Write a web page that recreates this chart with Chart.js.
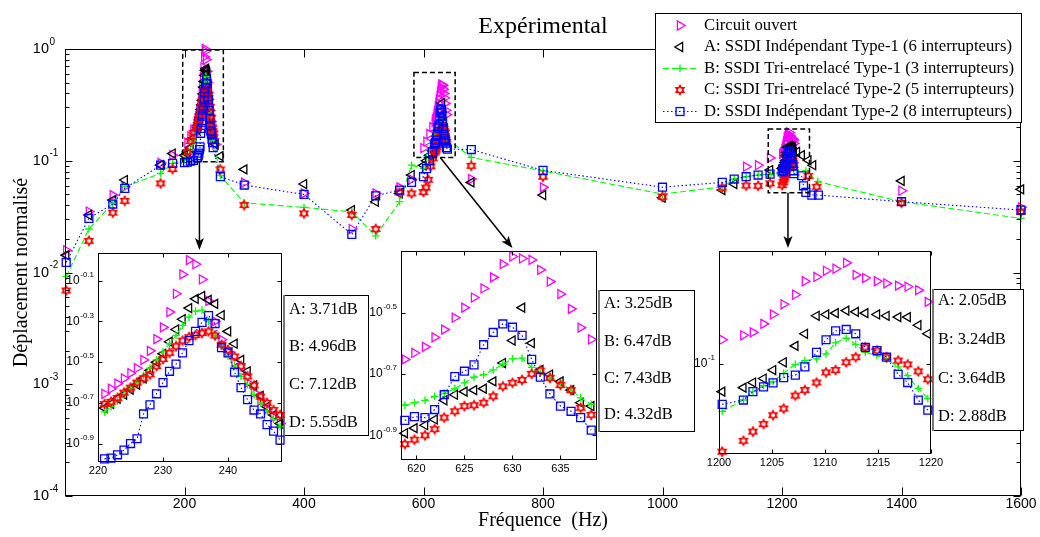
<!DOCTYPE html>
<html><head><meta charset="utf-8">
<script src="https://cdn.jsdelivr.net/npm/chart.js@4/dist/chart.umd.min.js"></script>
<style>
html,body{margin:0;padding:0;background:#fff;}
#wrap{position:relative;width:1040px;height:537px;overflow:hidden;background:#fff;}
#wrap canvas{position:absolute;}
</style></head><body>
<div id="wrap">
<canvas id="main" width="1040" height="537" style="left:0;top:0;z-index:1"></canvas>
<canvas id="in1" width="240" height="240" style="z-index:2"></canvas>
<canvas id="in2" width="250" height="240" style="z-index:2"></canvas>
<canvas id="in3" width="262" height="240" style="z-index:2"></canvas>
</div>
<script>
// ---------------- DATA ----------------
const SERIES_LABELS = [
  'Circuit ouvert',
  'A: SSDI Indépendant Type-1 (6 interrupteurs)',
  'B: SSDI Tri-entrelacé Type-1 (3 interrupteurs)',
  'C: SSDI Tri-entrelacé Type-2 (5 interrupteurs)',
  'D: SSDI Indépendant Type-2 (8 interrupteurs)'
];
const TITLE = 'Expérimental';
const X_TITLE = 'Fréquence  (Hz)';
const Y_TITLE = 'Déplacement normalisé';

// zoomed frequency sweeps (Hz)
const FREQ_INSET1 = [221,222,223,224,225,226,227,228,229,230,231,232,233,234,235,236,237,238,239,240,241,242,243,244,245,246,247,248];
const FREQ_INSET2 = [618.8,619.8,620.9,621.9,622.9,624,625,626,627,628,629,630,631,632,632.9,633.9,635,636.1,637.1,638.2];
const FREQ_INSET3 = [1200.3,1202.3,1203.2,1204.2,1205.1,1206.1,1207.2,1208.1,1209.2,1210.1,1211,1212,1212.9,1213.8,1214.9,1215.8,1216.9,1217.8,1218.8,1219.7];

// Circuit ouvert
const OUVERT_INSET1 = [0.221,0.234,0.248,0.263,0.279,0.295,0.324,0.359,0.410,0.468,0.556,0.684,0.851,1.0,0.955,0.804,0.631,0.501,0.407,0.355,0.316,0.282,0.251,0.224,0.204,0.186,0.170,0.158];
const OUVERT_INSET2 = [0.223,0.234,0.245,0.263,0.279,0.305,0.329,0.355,0.380,0.413,0.456,0.483,0.476,0.471,0.437,0.400,0.364,0.326,0.283,0.259];
const OUVERT_INSET3 = [0.115,0.118,0.120,0.126,0.133,0.141,0.149,0.161,0.165,0.171,0.173,0.179,0.167,0.164,0.161,0.159,0.157,0.156,0.153,0.143];
const OUVERT_MAIN_F = [2,40,80,100,160,180,200,205,210,215,252,300,400,480,520,560,580,600,605,610,615,680,800,1140,1160,1180,1400,1600];
const OUVERT_MAIN_V = [0.0158,0.0351,0.0493,0.0585,0.0955,0.112,0.110,0.145,0.165,0.19,0.14,0.0636,0.051,0.0245,0.051,0.0578,0.068,0.13,0.148,0.174,0.2,0.0686,0.0578,0.0884,0.0912,0.106,0.0539,0.0382];

// A
const A_INSET1 = [0.188,0.197,0.209,0.219,0.232,0.245,0.263,0.288,0.316,0.347,0.398,0.457,0.513,0.582,0.646,0.667,0.638,0.610,0.537,0.447,0.389,0.324,0.285,0.243,0.216,0.191,0.174,0.158];
const A_INSET2 = [0.128,0.133,0.136,0.142,0.164,0.171,0.175,0.177,0.179,0.189,0.217,0.257,0.329,0.252,0.206,0.199,0.189,0.177,0.161,0.157];
const A_INSET3 = [0.0853,0.0873,0.0899,0.0920,0.0966,0.101,0.111,0.119,0.132,0.133,0.134,0.136,0.135,0.134,0.133,0.132,0.131,0.131,0.125,0.119];
const A_MAIN_F = [2,40,80,100,160,180,200,205,210,215,252,260,300,400,480,520,560,580,600,605,610,615,680,800,1000,1100,1120,1180,1225,1233,1244,1252,1400,1600];
const A_MAIN_V = [0.0143,0.0327,0.0445,0.0672,0.0913,0.116,0.112,0.115,0.13,0.16,0.14,0.11,0.0837,0.0619,0.0362,0.043,0.051,0.0745,0.091,0.1,0.112,0.123,0.064,0.0493,0.0467,0.0547,0.0619,0.0826,0.12,0.112,0.101,0.0912,0.066,0.0555];

// B
const B_INSET1 = [0.180,0.191,0.204,0.219,0.234,0.251,0.272,0.295,0.324,0.355,0.389,0.427,0.479,0.525,0.562,0.569,0.501,0.427,0.380,0.339,0.302,0.269,0.245,0.219,0.1995,0.182,0.166,0.153];
const B_INSET2 = [0.158,0.161,0.164,0.169,0.173,0.179,0.187,0.195,0.199,0.206,0.215,0.224,0.225,0.210,0.201,0.194,0.187,0.177,0.167,0.159];
const B_INSET3 = [0.0762,0.0813,0.0853,0.0883,0.0904,0.0948,0.0998,0.102,0.103,0.106,0.113,0.116,0.112,0.107,0.105,0.103,0.0984,0.0935,0.0869,0.0820];
const B_MAIN_F = [2,40,80,100,160,180,200,205,210,215,260,300,400,480,520,560,580,600,605,610,615,680,800,1000,1100,1120,1140,1160,1180,1240,1260,1400,1600];
const B_MAIN_V = [0.0092,0.0245,0.0417,0.0585,0.077,0.0947,0.102,0.107,0.126,0.15,0.0735,0.0421,0.0382,0.0349,0.0213,0.043,0.0912,0.0855,0.107,0.126,0.145,0.107,0.081,0.0503,0.0585,0.0686,0.072,0.0745,0.076,0.081,0.065,0.043,0.0305];

// C
const C_INSET1 = [0.197,0.202,0.211,0.224,0.237,0.251,0.263,0.275,0.302,0.327,0.351,0.378,0.403,0.419,0.429,0.439,0.447,0.427,0.385,0.363,0.337,0.302,0.269,0.243,0.214,0.1995,0.184,0.174];
const C_INSET2 = [0.118,0.122,0.126,0.132,0.144,0.151,0.157,0.158,0.161,0.169,0.182,0.187,0.191,0.200,0.205,0.194,0.184,0.177,0.155,0.147];
const C_INSET3 = [0.0604,0.0643,0.0678,0.0708,0.0745,0.0774,0.0834,0.0861,0.0899,0.0953,0.0966,0.101,0.104,0.110,0.108,0.104,0.102,0.0998,0.0959,0.0916];
const C_MAIN_F = [2,40,80,100,160,180,205,210,215,260,300,400,480,520,560,580,600,604,608,612,616,680,800,1000,1100,1140,1160,1180,1244,1258,1400,1600];
const C_MAIN_V = [0.0069,0.0192,0.0343,0.0438,0.0627,0.0843,0.12,0.15,0.178,0.0837,0.0401,0.0338,0.0327,0.0245,0.0521,0.051,0.0525,0.0575,0.0676,0.0891,0.105,0.0902,0.072,0.0476,0.0575,0.06,0.0597,0.0627,0.073,0.0585,0.042,0.0349];

// D
const D_INSET1 = [0.106,0.107,0.111,0.117,0.126,0.133,0.176,0.195,0.221,0.251,0.285,0.309,0.351,0.403,0.447,0.495,0.535,0.488,0.372,0.351,0.282,0.237,0.207,0.184,0.176,0.156,0.145,0.131];
const D_INSET2 = [0.141,0.145,0.144,0.153,0.171,0.196,0.204,0.214,0.249,0.273,0.291,0.284,0.267,0.223,0.195,0.172,0.157,0.151,0.144,0.131];
const D_INSET3 = [0.0793,0.0813,0.0853,0.0877,0.0897,0.0925,0.0938,0.0984,0.107,0.115,0.121,0.122,0.119,0.110,0.108,0.104,0.0942,0.0899,0.0813,0.0767];
const D_MAIN_F = [2,40,80,100,160,180,200,205,210,215,260,300,400,480,520,560,580,600,605,610,615,640,680,800,1000,1100,1120,1140,1160,1180,1233,1236,1240,1250,1261,1400,1600];
const D_MAIN_V = [0.0123,0.0305,0.041,0.0566,0.0913,0.0947,0.096,0.097,0.099,0.101,0.072,0.0606,0.05,0.0219,0.0486,0.0547,0.064,0.072,0.085,0.1,0.12,0.127,0.126,0.082,0.058,0.064,0.0686,0.072,0.0745,0.076,0.0734,0.0597,0.0521,0.0493,0.0493,0.043,0.0362];

// dB gains written beside each zoom
const GAIN_INSET1 = ['A: 3.71dB','B: 4.96dB','C: 7.12dB','D: 5.55dB'];
const GAIN_INSET2 = ['A: 3.25dB','B: 6.47dB','C: 7.43dB','D: 4.32dB'];
const GAIN_INSET3 = ['A: 2.05dB','B: 3.24dB','C: 3.64dB','D: 2.88dB'];

// tick labels
const MAIN_X_TICKS = [200,400,600,800,1000,1200,1400,1600];
const MAIN_Y_EXPS = ['0','-1','-2','-3','-4'];
const INSET1_X_TICKS = [220,230,240];
const INSET2_X_TICKS = [620,625,630,635];
const INSET3_X_TICKS = [1200,1205,1210,1215,1220];
const INSET1_Y_EXPS = ['-0.1','-0.3','-0.5','-0.7','-0.9'];
const INSET2_Y_EXPS = ['-0.5','-0.7','-0.9'];
const INSET3_Y_EXPS = ['-1'];

// ---------------- STYLE ----------------
const SANS = '"Liberation Sans", Arial, sans-serif';
const SERIF = '"Liberation Serif", "Times New Roman", serif';

function hexagramCanvas(R, color, lw) {
  const s = Math.ceil(2 * R + lw * 2 + 2);
  const c = document.createElement('canvas'); c.width = s; c.height = s;
  const g = c.getContext('2d');
  const cx = s / 2, cy = s / 2, r = R / Math.sqrt(3);
  g.beginPath();
  for (let i = 0; i < 12; i++) {
    const ang = -Math.PI / 2 + i * Math.PI / 6;
    const rr = i % 2 === 0 ? R : r;
    const x = cx + rr * Math.cos(ang), y = cy + rr * Math.sin(ang);
    if (i) g.lineTo(x, y); else g.moveTo(x, y);
  }
  g.closePath(); g.strokeStyle = color; g.lineWidth = lw; g.stroke();
  return c;
}
const HEX_IMG = hexagramCanvas(4.3, '#FF0000', 1.7);

const SERIES_STYLE = [
  {color:'#FF00FF', pointStyle:'triangle', rotation:90, radius:5.2, line:false},
  {color:'#000000', pointStyle:'triangle', rotation:270, radius:5.2, line:false},
  {color:'#00FF00', pointStyle:'cross', rotation:0, radius:3.8, line:true, dash:[6,3]},
  {color:'#FF0000', pointStyle:'hexagram', rotation:0, radius:4.3, line:false},
  {color:'#0000FF', pointStyle:'rect', rotation:0, radius:5.6, line:true, dash:[1.5,2.5]}
];

const MAIN_F = [OUVERT_MAIN_F, A_MAIN_F, B_MAIN_F, C_MAIN_F, D_MAIN_F];
const MAIN_V = [OUVERT_MAIN_V, A_MAIN_V, B_MAIN_V, C_MAIN_V, D_MAIN_V];
const INSET_V = [
  [OUVERT_INSET1, A_INSET1, B_INSET1, C_INSET1, D_INSET1],
  [OUVERT_INSET2, A_INSET2, B_INSET2, C_INSET2, D_INSET2],
  [OUVERT_INSET3, A_INSET3, B_INSET3, C_INSET3, D_INSET3]
];
const INSET_F = [FREQ_INSET1, FREQ_INSET2, FREQ_INSET3];

function toPoints(fs, vs) { return fs.map((f, k) => ({x: f, y: vs[k]})); }
function mergePoints(lists) { return [].concat(...lists).sort((p, q) => p.x - q.x); }

function makeDataset(i, points) {
  const st = SERIES_STYLE[i];
  return {
    label: SERIES_LABELS[i], data: points,
    showLine: st.line, borderColor: st.color, borderWidth: 1.1, borderDash: st.dash || [],
    pointStyle: st.pointStyle === 'hexagram' ? HEX_IMG : st.pointStyle,
    pointRadius: st.radius, pointRotation: st.rotation,
    pointBorderColor: st.color, pointBackgroundColor: 'rgba(0,0,0,0)', pointBorderWidth: 1.3,
    order: 5 - i, clip: false, tension: 0
  };
}

function drawExpLabel(ctx, x, y, exp, baseSize, expSize, mode) {
  ctx.font = baseSize + 'px ' + SANS; const wb = ctx.measureText('10').width;
  ctx.font = expSize + 'px ' + SANS; const we = ctx.measureText(exp).width;
  const bx = mode === 'right' ? x - we - wb - 0.5 : x - wb;
  ctx.textAlign = 'left'; ctx.textBaseline = 'middle';
  ctx.font = baseSize + 'px ' + SANS; ctx.fillText('10', bx, y);
  ctx.font = expSize + 'px ' + SANS; ctx.fillText(exp, bx + wb + 0.5, y - baseSize * 0.5);
}

function makeAxesPlugin(cfg) {
  return {
    id: 'matAxes_' + cfg.name,
    beforeDatasetsDraw(chart) {
      if (!cfg.whiteFill) return;
      const a = chart.chartArea, ctx = chart.ctx;
      ctx.save(); ctx.fillStyle = '#fff'; ctx.fillRect(a.left, a.top, a.right - a.left, a.bottom - a.top); ctx.restore();
    },
    afterDatasetsDraw(chart) {
      const ctx = chart.ctx, a = chart.chartArea, xs = chart.scales.x, ys = chart.scales.y;
      ctx.save();
      ctx.strokeStyle = '#000'; ctx.lineWidth = 1; ctx.setLineDash([]);
      const L = Math.round(a.left) + 0.5, R = Math.round(a.right) - 0.5, T = Math.round(a.top) + 0.5, B = Math.round(a.bottom) - 0.5;
      ctx.strokeRect(L, T, R - L, B - T);
      ctx.beginPath();
      cfg.xTicks.forEach(v => {
        const px = Math.round(xs.getPixelForValue(v)) + 0.5;
        ctx.moveTo(px, B); ctx.lineTo(px, B - cfg.xTickLen);
        ctx.moveTo(px, T); ctx.lineTo(px, T + cfg.xTickLen);
      });
      cfg.yExps.forEach(e => {
        const py = Math.round(ys.getPixelForValue(Math.pow(10, parseFloat(e)))) + 0.5;
        ctx.moveTo(L, py); ctx.lineTo(L + cfg.yTickLen, py);
        ctx.moveTo(R, py); ctx.lineTo(R - cfg.yTickLen, py);
      });
      (cfg.yMinor || []).forEach(v => {
        const py = Math.round(ys.getPixelForValue(v)) + 0.5;
        ctx.moveTo(L, py); ctx.lineTo(L + cfg.yMinorLen, py);
        ctx.moveTo(R, py); ctx.lineTo(R - cfg.yMinorLen, py);
      });
      ctx.stroke();
      ctx.fillStyle = '#000';
      ctx.font = cfg.xFont + 'px ' + SANS; ctx.textAlign = 'center'; ctx.textBaseline = 'middle';
      cfg.xTicks.forEach(v => ctx.fillText(String(v), xs.getPixelForValue(v), a.bottom + cfg.xLabelGap));
      cfg.yExps.forEach(e => {
        const py = ys.getPixelForValue(Math.pow(10, parseFloat(e)));
        drawExpLabel(ctx, a.left - cfg.yLabelGap, py, e, cfg.yBase, cfg.yExp, cfg.yMode);
      });
      ctx.restore();
    }
  };
}

// ---------------- INSETS ----------------
const INSETS = [
  {id:'in1', left:55, top:240, pad:{left:43, top:13, right:13, bottom:18},
   xmin:220, xmax:248.3, ymin:0.1023, ymax:1.084, xTicks:INSET1_X_TICKS, yExps:INSET1_Y_EXPS},
  {id:'in2', left:355, top:240, pad:{left:46, top:11, right:8, bottom:20},
   xmin:618.4, xmax:638.8, ymin:0.1047, ymax:0.5035, xTicks:INSET2_X_TICKS, yExps:INSET2_Y_EXPS},
  {id:'in3', left:690, top:240, pad:{left:29, top:11, right:21, bottom:26},
   xmin:1200, xmax:1220, ymin:0.0596, ymax:0.1916, xTicks:INSET3_X_TICKS, yExps:INSET3_Y_EXPS}
];
const insetCharts = [];
INSETS.forEach((ins, k) => {
  const cv = document.getElementById(ins.id);
  cv.style.left = ins.left + 'px'; cv.style.top = ins.top + 'px';
  const datasets = [0,1,2,3,4].map(i => makeDataset(i, toPoints(INSET_F[k], INSET_V[k][i])));
  insetCharts[k] = new Chart(cv, {
    type: 'scatter',
    data: {datasets},
    options: {
      responsive: false, animation: false, devicePixelRatio: 1, events: [],
      layout: {padding: ins.pad},
      scales: {
        x: {type: 'linear', min: ins.xmin, max: ins.xmax, display: false},
        y: {type: 'logarithmic', min: ins.ymin, max: ins.ymax, display: false}
      },
      plugins: {legend: {display: false}, tooltip: {enabled: false}, title: {display: false}}
    },
    plugins: [makeAxesPlugin({name: ins.id, whiteFill: true, xTicks: ins.xTicks, yExps: ins.yExps,
      xTickLen: 4, yTickLen: 4, xFont: 11, xLabelGap: 9, yBase: 12, yExp: 8, yLabelGap: 4, yMode: 'right'})]
  });
});

// ---------------- MAIN ----------------
const mainDatasets = [0,1,2,3,4].map(i => makeDataset(i, mergePoints([
  toPoints(MAIN_F[i], MAIN_V[i]),
  toPoints(FREQ_INSET1, INSET_V[0][i]),
  toPoints(FREQ_INSET2, INSET_V[1][i]),
  toPoints(FREQ_INSET3, INSET_V[2][i])
])));

const mainMinor = [];
for (let d = -4; d < 0; d++) for (let m = 2; m <= 9; m++) mainMinor.push(m * Math.pow(10, d));

// dashed zoom windows in data units, and where arrows start
const ZOOM_BOXES = [
  {f0:197, f1:265, v0:0.098, v1:0.98, arrowF:225, inset:0},
  {f0:584, f1:653, v0:0.107, v1:0.615, arrowF:628, inset:1, tipF:630},
  {f0:1177, f1:1246, v0:0.0517, v1:0.192, arrowF:1210, inset:2}
];
const GAIN_BOXES = [
  {x0:283, y0:295, x1:369, y1:436, tx:289, rows:[310,347,385,423], texts:GAIN_INSET1},
  {x0:598, y0:290, x1:695, y1:432, tx:604, rows:[304,342,379,415], texts:GAIN_INSET2},
  {x0:932, y0:289, x1:1024, y1:431, tx:938, rows:[301,340,379,417], texts:GAIN_INSET3}
];
const LEGEND_BOX = {x0:655, y0:13, x1:1022, y1:123, rowY0:25.5, rowStep:21.5, markX:680, lineX0:663, lineX1:697, textX:704};

function drawMarker(ctx, st, x, y) {
  ctx.save();
  ctx.strokeStyle = st.color; ctx.lineWidth = 1.3; ctx.setLineDash([]);
  const r = st.radius;
  if (st.pointStyle === 'triangle') {
    const rad = st.rotation * Math.PI / 180;
    ctx.beginPath();
    for (let k = 0; k < 3; k++) {
      const ang = rad + k * 2 * Math.PI / 3;
      const px = x + Math.sin(ang) * r, py = y - Math.cos(ang) * r;
      if (k) ctx.lineTo(px, py); else ctx.moveTo(px, py);
    }
    ctx.closePath(); ctx.stroke();
  } else if (st.pointStyle === 'cross') {
    ctx.beginPath(); ctx.moveTo(x - r, y); ctx.lineTo(x + r, y); ctx.moveTo(x, y - r); ctx.lineTo(x, y + r); ctx.stroke();
  } else if (st.pointStyle === 'rect') {
    const s = r * Math.SQRT1_2; ctx.strokeRect(x - s, y - s, 2 * s, 2 * s);
  } else if (st.pointStyle === 'hexagram') {
    ctx.drawImage(HEX_IMG, x - HEX_IMG.width / 2, y - HEX_IMG.height / 2);
  }
  ctx.restore();
}

function drawArrow(ctx, x1, y1, x2, y2) {
  const ang = Math.atan2(y2 - y1, x2 - x1), len = 12, half = 4.5, back = 3;
  const bx = x2 - len * Math.cos(ang), by = y2 - len * Math.sin(ang);
  ctx.beginPath(); ctx.moveTo(x1, y1); ctx.lineTo(bx + back * Math.cos(ang), by + back * Math.sin(ang)); ctx.stroke();
  ctx.beginPath();
  ctx.moveTo(x2, y2);
  ctx.lineTo(bx - half * Math.sin(ang), by + half * Math.cos(ang));
  ctx.lineTo(bx + back * Math.cos(ang), by + back * Math.sin(ang));
  ctx.lineTo(bx + half * Math.sin(ang), by - half * Math.cos(ang));
  ctx.closePath(); ctx.fill();
}

const annotationPlugin = {
  id: 'mainAnnotations',
  afterDraw(chart) {
    const ctx = chart.ctx, a = chart.chartArea, xs = chart.scales.x, ys = chart.scales.y;
    const cx = (a.left + a.right) / 2;
    ctx.save();
    ctx.fillStyle = '#000'; ctx.strokeStyle = '#000';
    ctx.textAlign = 'center'; ctx.textBaseline = 'middle';
    ctx.font = '24px ' + SERIF; ctx.fillText(TITLE, cx, 27);
    ctx.font = '20px ' + SERIF; ctx.fillText(X_TITLE, cx, 521);
    ctx.save(); ctx.translate(22, (a.top + a.bottom) / 2); ctx.rotate(-Math.PI / 2); ctx.fillText(Y_TITLE, 0, 0); ctx.restore();

    // dashed zoom windows and arrows
    ctx.lineWidth = 1.5; ctx.setLineDash([5, 3]);
    ZOOM_BOXES.forEach(b => {
      const x1 = xs.getPixelForValue(b.f0), x2 = xs.getPixelForValue(b.f1);
      const y1 = ys.getPixelForValue(b.v1), y2 = ys.getPixelForValue(b.v0);
      ctx.strokeRect(x1, y1, x2 - x1, y2 - y1);
    });
    ctx.setLineDash([]); ctx.lineWidth = 1.5;
    ZOOM_BOXES.forEach(b => {
      const sx = xs.getPixelForValue(b.arrowF), sy = ys.getPixelForValue(b.v0);
      const ins = INSETS[b.inset], ic = insetCharts[b.inset];
      const ty = ins.top + ic.chartArea.top - 3;
      const tx = b.tipF !== undefined ? ins.left + ic.scales.x.getPixelForValue(b.tipF) : sx;
      drawArrow(ctx, sx, sy, tx, ty);
    });

    // gain boxes
    GAIN_BOXES.forEach(g => {
      ctx.fillStyle = '#fff'; ctx.fillRect(g.x0, g.y0, g.x1 - g.x0, g.y1 - g.y0);
      ctx.strokeStyle = '#000'; ctx.lineWidth = 1;
      ctx.strokeRect(g.x0 + 0.5, g.y0 + 0.5, g.x1 - g.x0 - 1, g.y1 - g.y0 - 1);
      ctx.strokeStyle = '#777'; ctx.lineWidth = 2;
      ctx.beginPath(); ctx.moveTo(g.x0 + 1, g.y0); ctx.lineTo(g.x0 + 1, g.y1); ctx.stroke();
      ctx.fillStyle = '#000'; ctx.font = '16.5px ' + SERIF; ctx.textAlign = 'left'; ctx.textBaseline = 'middle';
      g.texts.forEach((t, k) => ctx.fillText(t, g.tx, g.rows[k]));
    });

    // legend
    const lg = LEGEND_BOX;
    ctx.fillStyle = '#fff'; ctx.fillRect(lg.x0, lg.y0, lg.x1 - lg.x0, lg.y1 - lg.y0);
    ctx.strokeStyle = '#000'; ctx.lineWidth = 1;
    ctx.strokeRect(lg.x0 + 0.5, lg.y0 + 0.5, lg.x1 - lg.x0 - 1, lg.y1 - lg.y0 - 1);
    SERIES_LABELS.forEach((lab, i) => {
      const st = SERIES_STYLE[i], y = lg.rowY0 + i * lg.rowStep;
      if (st.line) {
        ctx.save(); ctx.strokeStyle = st.color; ctx.lineWidth = 1.1; ctx.setLineDash(st.dash);
        ctx.beginPath(); ctx.moveTo(lg.lineX0, y); ctx.lineTo(lg.lineX1, y); ctx.stroke(); ctx.restore();
      }
      drawMarker(ctx, st, lg.markX, y);
      ctx.fillStyle = '#000'; ctx.font = '16.7px ' + SERIF; ctx.textAlign = 'left'; ctx.textBaseline = 'middle';
      ctx.fillText(lab, lg.textX, y);
    });
    ctx.restore();
  }
};

new Chart(document.getElementById('main'), {
  type: 'scatter',
  data: {datasets: mainDatasets},
  options: {
    responsive: false, animation: false, devicePixelRatio: 1, events: [],
    layout: {padding: {left: 65, right: 19, top: 49, bottom: 41}},
    scales: {
      x: {type: 'linear', min: 0, max: 1600, display: false},
      y: {type: 'logarithmic', min: 1e-4, max: 1, display: false}
    },
    plugins: {legend: {display: false}, tooltip: {enabled: false}, title: {display: false}}
  },
  plugins: [
    makeAxesPlugin({name: 'main', whiteFill: false, xTicks: MAIN_X_TICKS, yExps: MAIN_Y_EXPS, yMinor: mainMinor,
      xTickLen: 8, yTickLen: 7, yMinorLen: 4, xFont: 14, xLabelGap: 8, yBase: 14.5, yExp: 10, yLabelGap: 16, yMode: 'base'}),
    annotationPlugin
  ]
});
</script>
</body></html>
